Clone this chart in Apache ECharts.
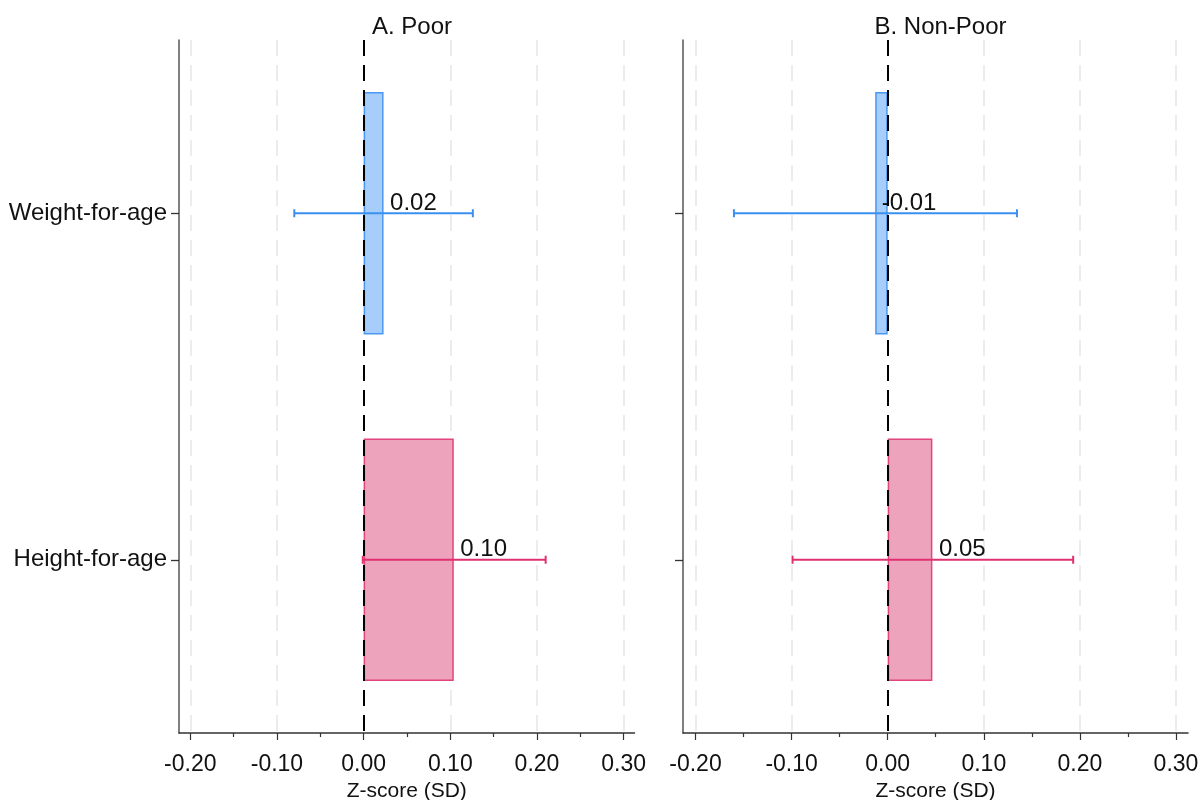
<!DOCTYPE html>
<html>
<head>
<meta charset="utf-8">
<script src="https://cdn.jsdelivr.net/npm/echarts@6/dist/echarts.min.js"></script>
<style>html,body{margin:0;padding:0;background:#fff}#c{width:1200px;height:800px}</style>
</head>
<body>
<div id="c"></div>
<script>
const categories = ['Weight-for-age', 'Height-for-age'];
const panelTitles = ['A. Poor', 'B. Non-Poor'];
const poorEst = [0.023, 0.104];
const poorLow = [-0.080, -0.001];
const poorHigh = [0.126, 0.210];
const nonPoorEst = [-0.013, 0.0465];
const nonPoorLow = [-0.160, -0.099];
const nonPoorHigh = [0.1345, 0.193];
const majorTicks = [-0.2, -0.1, 0, 0.1, 0.2, 0.3];
const minorTicks = [-0.15, -0.05, 0.05, 0.15, 0.25];
const gridValues = [-0.2, -0.1, 0.1, 0.2, 0.3];
const xTitle = 'Z-score (SD)';

const FONT = '"Liberation Sans", Arial, sans-serif';
const fills = ['#a7cdfa', '#eea3bd'];
const strokes = ['#4a98f3', '#e2457d'];
const errColors = ['#3a8ff0', '#e03070'];
const XMIN = -0.213, XMAX = 0.3125;

const panels = [
  {est: poorEst, low: poorLow, high: poorHigh},
  {est: nonPoorEst, low: nonPoorLow, high: nonPoorHigh}
];

const grids = [
  {left: 179, right: 565.5, top: 40, bottom: 67, outerBoundsMode: 'none', containLabel: false},
  {left: 683, right: 12, top: 40, bottom: 67, outerBoundsMode: 'none', containLabel: false}
];

const xAxes = [], yAxes = [], series = [];
panels.forEach((p, g) => {
  xAxes.push({
    type: 'value', gridIndex: g, min: XMIN, max: XMAX, position: 'bottom',
    axisLine: {show: true, onZero: false, lineStyle: {color: '#333', width: 1.5}},
    axisTick: {show: true, customValues: majorTicks, length: 7, lineStyle: {color: '#333', width: 1.2}},
    axisLabel: {customValues: majorTicks, formatter: v => v.toFixed(2), fontSize: 23, color: '#111', margin: 20, fontFamily: FONT},
    splitLine: {show: false},
    name: xTitle, nameLocation: 'middle', nameGap: 44,
    nameTextStyle: {fontSize: 21, color: '#111', fontFamily: FONT}
  });
  yAxes.push({
    type: 'category', gridIndex: g, data: categories, inverse: true,
    axisLine: {show: true, onZero: false, lineStyle: {color: '#555', width: 1.5}},
    axisTick: {show: true, alignWithLabel: true, length: 8, lineStyle: {color: '#333', width: 1.3}},
    axisLabel: {show: g === 0, fontSize: 24, color: '#111', margin: 12, fontFamily: FONT},
    splitLine: {show: false}
  });
});
// minor tick axes
panels.forEach((p, g) => {
  xAxes.push({
    type: 'value', gridIndex: g, min: XMIN, max: XMAX, position: 'bottom',
    axisLine: {show: false, onZero: false},
    axisTick: {show: true, customValues: minorTicks, length: 4, lineStyle: {color: '#333', width: 1.2}},
    axisLabel: {show: false}, splitLine: {show: false}
  });
});

panels.forEach((p, g) => {
  // gridlines
  series.push({
    type: 'line', xAxisIndex: g, yAxisIndex: g, data: [], z: 1, silent: true,
    markLine: {
      z: 1, silent: true, symbol: 'none', label: {show: false}, animation: false,
      lineStyle: {color: '#e6e6e6', type: [16, 9], width: 1.5},
      data: gridValues.map(v => ({xAxis: v}))
    }
  });
  series.push({
    type: 'bar', xAxisIndex: g, yAxisIndex: g, z: 2, barWidth: '70%',
    data: p.est.map((v, i) => ({value: v, itemStyle: {color: fills[i], borderColor: strokes[i], borderWidth: 1.5}})),
    label: {show: false}
  });
  series.push({
    type: 'custom', xAxisIndex: g, yAxisIndex: g, z: 4,
    data: categories.map((c, i) => [p.low[i], p.high[i], i, p.est[i]]),
    encode: {x: [0, 1, 3], y: 2},
    renderItem: function (params, api) {
      const i = api.value(2);
      const lo = api.coord([api.value(0), i]);
      const hi = api.coord([api.value(1), i]);
      const pt = api.coord([api.value(3), i]);
      const col = errColors[i];
      const st = {stroke: col, lineWidth: 2};
      return {type: 'group', children: [
        {type: 'line', shape: {x1: lo[0], y1: lo[1], x2: hi[0], y2: hi[1]}, style: st},
        {type: 'line', shape: {x1: lo[0], y1: lo[1] - 4, x2: lo[0], y2: lo[1] + 4}, style: st},
        {type: 'line', shape: {x1: hi[0], y1: hi[1] - 4, x2: hi[0], y2: hi[1] + 4}, style: st},
        {type: 'text', x: pt[0] + 6.5, y: pt[1] - 10, style: {
          text: api.value(3).toFixed(2), fill: '#111', fontSize: 24, fontFamily: FONT,
          align: 'left', verticalAlign: 'middle'}}
      ]};
    }
  });
  // zero line
  series.push({
    type: 'line', xAxisIndex: g, yAxisIndex: g, data: [], z: 5, silent: true,
    markLine: {
      z: 10, silent: true, symbol: 'none', label: {show: false}, animation: false,
      lineStyle: {color: '#000', type: [16, 9], width: 2},
      data: [{xAxis: 0}]
    }
  });
});

const chart = echarts.init(document.getElementById('c'), null, {renderer: 'canvas'});
chart.setOption({
  animation: false,
  backgroundColor: '#fff',
  textStyle: {fontFamily: FONT},
  title: [
    {text: panelTitles[0], left: 407, top: 10, textAlign: 'center', textStyle: {fontSize: 24, fontWeight: 'normal', color: '#111', fontFamily: FONT}},
    {text: panelTitles[1], left: 935.5, top: 10, textAlign: 'center', textStyle: {fontSize: 24, fontWeight: 'normal', color: '#111', fontFamily: FONT}}
  ],
  grid: grids,
  xAxis: xAxes,
  yAxis: yAxes,
  series: series
});
</script>
</body>
</html>
